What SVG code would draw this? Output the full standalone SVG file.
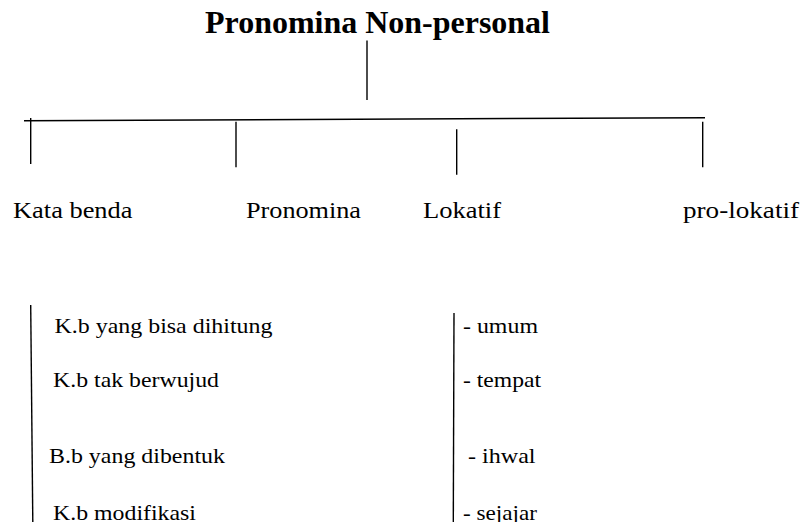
<svg xmlns="http://www.w3.org/2000/svg" width="803" height="522" viewBox="0 0 803 522">
  <style>
    text { font-family: "Liberation Serif", "Times New Roman", serif; fill: #000; }
    .title { font-weight: bold; font-size: 30.5px; }
    .label { font-size: 24px; }
    .item { font-size: 22px; }
    .line { stroke: #000; stroke-width: 1.4; fill: none; }
  </style>
  <rect width="803" height="522" fill="#fff"/>

  <!-- connectors -->
  <g id="connectors">
    <line class="line" x1="367" y1="40.5" x2="367" y2="100"/>
    <line class="line" x1="24" y1="120.7" x2="705" y2="117.7"/>
    <line class="line" x1="30.7" y1="118" x2="30.7" y2="164"/>
    <line class="line" x1="236" y1="121.7" x2="236" y2="167.3"/>
    <line class="line" x1="456.7" y1="129.3" x2="456.7" y2="174.7"/>
    <line class="line" x1="702.7" y1="121.7" x2="702.7" y2="167.3"/>
    <line class="line" x1="30.7" y1="305" x2="32.8" y2="522"/>
    <line class="line" x1="454" y1="313" x2="453.3" y2="522"/>
  </g>

  <!-- root -->
  <g id="root">
    <text class="title" x="205" y="33" textLength="345" lengthAdjust="spacingAndGlyphs">Pronomina Non-personal</text>
  </g>

  <!-- categories -->
  <g id="kata-benda">
    <text class="label" x="13" y="218.3" textLength="119.5" lengthAdjust="spacingAndGlyphs">Kata benda</text>
  </g>
  <g id="pronomina">
    <text class="label" x="246" y="218.3" textLength="115" lengthAdjust="spacingAndGlyphs">Pronomina</text>
  </g>
  <g id="lokatif">
    <text class="label" x="423" y="218.3" textLength="78" lengthAdjust="spacingAndGlyphs">Lokatif</text>
  </g>
  <g id="pro-lokatif">
    <text class="label" x="683" y="218.3" textLength="116" lengthAdjust="spacingAndGlyphs">pro-lokatif</text>
  </g>

  <!-- kata benda sub-list -->
  <g id="kata-benda-list">
    <text class="item" x="54.5" y="332.7" textLength="218" lengthAdjust="spacingAndGlyphs">K.b yang bisa dihitung</text>
    <text class="item" x="53" y="386.7" textLength="166" lengthAdjust="spacingAndGlyphs">K.b tak berwujud</text>
    <text class="item" x="49" y="463.3" textLength="176" lengthAdjust="spacingAndGlyphs">B.b yang dibentuk</text>
    <text class="item" x="53" y="519.5" textLength="143" lengthAdjust="spacingAndGlyphs">K.b modifikasi</text>
  </g>

  <!-- lokatif sub-list -->
  <g id="lokatif-list">
    <text class="item" x="463" y="332.7" textLength="75" lengthAdjust="spacingAndGlyphs">- umum</text>
    <text class="item" x="463" y="386.7" textLength="78" lengthAdjust="spacingAndGlyphs">- tempat</text>
    <text class="item" x="468" y="463.3" textLength="67.5" lengthAdjust="spacingAndGlyphs">- ihwal</text>
    <text class="item" x="463" y="519.5" textLength="74" lengthAdjust="spacingAndGlyphs">- sejajar</text>
  </g>
</svg>
